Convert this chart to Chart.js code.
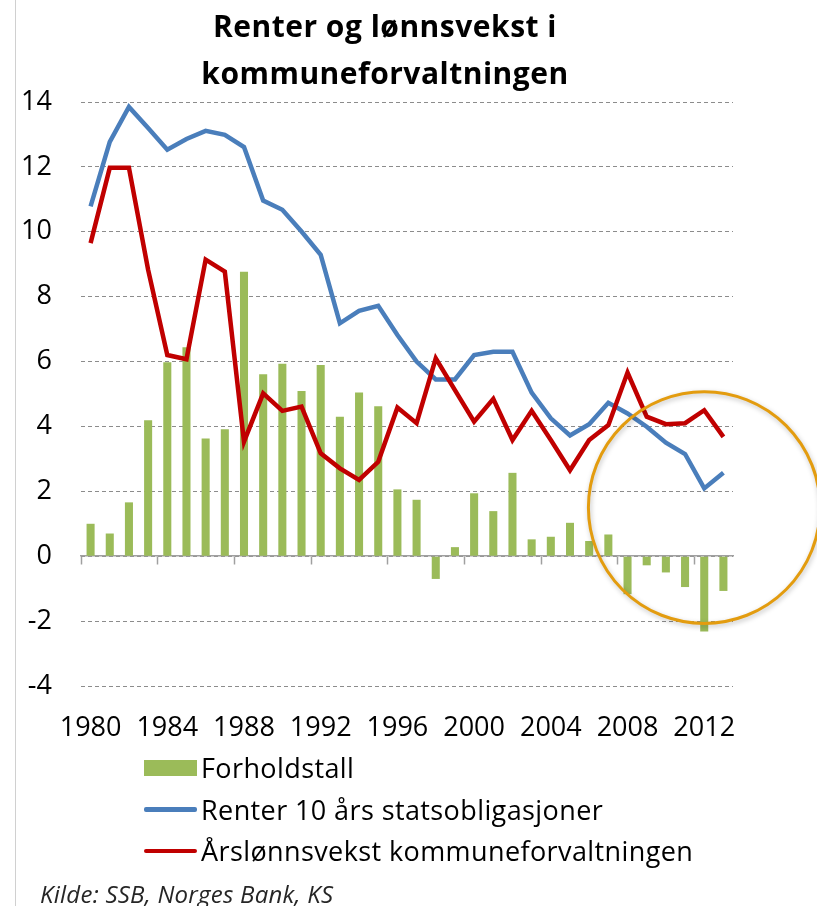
<!DOCTYPE html>
<html lang="no">
<head>
  <meta charset="UTF-8">
  <meta name="viewport" content="width=device-width, initial-scale=1.0">
  <title>Renter og lønnsvekst i kommuneforvaltningen</title>
  <style>
    body { margin: 0; background: #fff; font-family: 'Open Sans', sans-serif; }
    .wrap { position: relative; width: 817px; height: 906px; overflow: hidden; }
    .frame { position: absolute; left: 15px; top: 0; width: 1px; height: 906px; background: #d0d0d0; }
    .title { position: absolute; left: 135px; width: 500px; top: 2px; text-align: center;
             font-weight: 700; font-size: 30px; letter-spacing: 0.5px; line-height: 47px; color: #000; }
    #myChart { position: absolute; left: 0; top: 0; }
    .legend { position: absolute; left: 144px; top: 747px; font-size: 27px; letter-spacing: 0.4px; color: #000; }
    .legendItem { display: flex; align-items: center; height: 41.5px; white-space: nowrap; }
    .swatch { width: 53px; margin-right: 4px; }
    .source { position: absolute; left: 40px; top: 879px; font-style: italic; font-size: 24px;
              letter-spacing: 0.25px; line-height: 30px; color: #262626; }
  </style>
</head>
<body>
  <div class="wrap">
    <div class="frame"></div>
    <canvas id="myChart" width="817" height="906"></canvas>
    <div class="title">Renter og lønnsvekst i<br>kommuneforvaltningen</div>
    <div class="legend" id="legend"></div>
    <div class="source">Kilde: SSB, Norges Bank, KS</div>
  </div>

  <script src="https://cdn.jsdelivr.net/npm/chart.js"></script>
  <script>
    // data
    const years = ['1980','1981','1982','1983','1984','1985','1986','1987','1988','1989',
                   '1990','1991','1992','1993','1994','1995','1996','1997','1998','1999',
                   '2000','2001','2002','2003','2004','2005','2006','2007','2008','2009',
                   '2010','2011','2012','2013']
    const forholdstall = [1.0, 0.7, 1.66, 4.19, 5.98, 6.44, 3.63, 3.91, 8.77, 5.61,
                          5.93, 5.09, 5.89, 4.3, 5.05, 4.62, 2.06, 1.74, -0.7, 0.28,
                          1.94, 1.39, 2.57, 0.52, 0.6, 1.03, 0.47, 0.67, -1.17, -0.28,
                          -0.5, -0.95, -2.32, -1.07]
    const renter = [10.78, 12.77, 13.85, 13.2, 12.53, 12.86, 13.11, 12.99, 12.61, 10.96,
                    10.68, 10.01, 9.29, 7.18, 7.56, 7.72, 6.82, 6.0, 5.45, 5.45,
                    6.2, 6.3, 6.3, 5.04, 4.25, 3.72, 4.07, 4.73, 4.4, 3.99,
                    3.5, 3.15, 2.09, 2.57]
    const lonnsvekst = [9.65, 11.97, 11.97, 8.83, 6.2, 6.07, 9.14, 8.77, 3.53, 5.02,
                        4.48, 4.61, 3.17, 2.71, 2.35, 2.91, 4.58, 4.1, 6.1, 5.12,
                        4.15, 4.85, 3.58, 4.48, 3.58, 2.65, 3.58, 4.04, 5.66, 4.3,
                        4.07, 4.1, 4.5, 3.68]
    const seriesNames = ['Forholdstall', 'Renter 10 års statsobligasjoner', 'Årslønnsvekst kommuneforvaltningen']

    // highlight ring around the last years (category index, value, radius in y units)
    const ringCenter = [32, 1.5]
    const ringRadius = 3.57

    // where the plot area should sit on the page
    const plotBox = { left: 81, right: 733, top: 102, bottom: 686 }

    Chart.defaults.font.family = "'Open Sans', sans-serif"
    Chart.defaults.color = '#000'

    const ringPlugin = {
      id: 'ring',
      afterDatasetsDraw(chart) {
        const ctx = chart.ctx
        const x = chart.scales.x
        const y = chart.scales.y
        const cx = x.getPixelForValue(ringCenter[0])
        const cy = y.getPixelForValue(ringCenter[1])
        const r = Math.abs(y.getPixelForValue(0) - y.getPixelForValue(ringRadius))
        ctx.save()
        ctx.shadowColor = 'rgba(0,0,0,0.25)'
        ctx.shadowBlur = 5
        ctx.shadowOffsetX = 1
        ctx.shadowOffsetY = 2
        ctx.strokeStyle = '#E39C0F'
        ctx.lineWidth = 3
        ctx.beginPath()
        ctx.arc(cx, cy, r, 0, Math.PI * 2)
        ctx.stroke()
        ctx.restore()
      }
    }

    const data = {
      labels: years,
      datasets: [
        {
          type: 'line',
          label: seriesNames[2],
          data: lonnsvekst,
          borderColor: '#C00000',
          backgroundColor: '#C00000',
          borderWidth: 4.5,
          pointRadius: 0,
          tension: 0,
          order: 0
        },
        {
          type: 'line',
          label: seriesNames[1],
          data: renter,
          borderColor: '#4A7EBB',
          backgroundColor: '#4A7EBB',
          borderWidth: 4.5,
          pointRadius: 0,
          tension: 0,
          order: 1
        },
        {
          type: 'bar',
          label: seriesNames[0],
          data: forholdstall,
          backgroundColor: '#9BBB59',
          barPercentage: 0.42,
          categoryPercentage: 1,
          order: 2
        }
      ]
    }

    const config = {
      type: 'bar',
      data: data,
      options: {
        responsive: false,
        animation: false,
        layout: { padding: { top: 102, left: 21, right: 84, bottom: 162 } },
        plugins: {
          legend: { display: false },
          title: { display: false },
          tooltip: { enabled: false }
        },
        scales: {
          x: {
            type: 'category',
            offset: true,
            position: { y: 0 },
            ticks: { display: false, autoSkip: false },
            grid: {
              offset: true,
              drawOnChartArea: false,
              drawTicks: true,
              tickLength: 8,
              tickWidth: 1.5,
              tickColor: (c) => (c.index !== undefined && c.index % 4 === 0) ? '#A0A0A0' : 'rgba(0,0,0,0)'
            },
            border: { display: true, color: '#A0A0A0', width: 1.5 }
          },
          x2: {
            type: 'category',
            labels: years,
            offset: true,
            position: 'bottom',
            grid: { display: false, drawTicks: false },
            border: { display: false },
            ticks: {
              autoSkip: false,
              maxRotation: 0,
              padding: 26,
              font: { size: 27 },
              callback: function (value, index) { return index % 4 === 0 ? this.getLabelForValue(value) : '' }
            }
          },
          y: {
            min: -4,
            max: 14,
            ticks: { stepSize: 2, padding: 29, font: { size: 27 } },
            grid: { color: '#8C8C8C', lineWidth: 1, drawTicks: false },
            border: { display: false, dash: [4, 3] }
          }
        }
      },
      plugins: [ringPlugin]
    }

    const myChart = new Chart(document.getElementById('myChart'), config)

    // nudge the layout padding until the plot area lands on plotBox
    for (let k = 0; k < 4; k++) {
      const ca = myChart.chartArea
      const p = myChart.options.layout.padding
      p.left += plotBox.left - ca.left
      p.right += ca.right - plotBox.right
      p.top += plotBox.top - ca.top
      p.bottom += ca.bottom - plotBox.bottom
      myChart.update()
    }

    // legend in the order of the reference
    const legend = document.getElementById('legend')
    const legendOrder = [2, 1, 0]
    legendOrder.forEach((i) => {
      const ds = myChart.data.datasets[i]
      const row = document.createElement('div')
      row.className = 'legendItem'
      const sw = document.createElement('div')
      sw.className = 'swatch'
      if (ds.type === 'bar') {
        sw.style.height = '16px'
        sw.style.background = ds.backgroundColor
      } else {
        sw.style.height = '4.5px'
        sw.style.borderRadius = '2px'
        sw.style.background = ds.borderColor
      }
      row.appendChild(sw)
      row.appendChild(document.createTextNode(ds.label))
      legend.appendChild(row)
    })
  </script>
</body>
</html>
